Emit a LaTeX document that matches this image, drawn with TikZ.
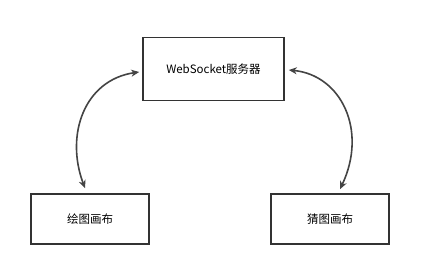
\documentclass[tikz,border=0pt]{standalone}
\usepackage{fontspec}
\setmainfont{Noto Sans CJK SC}
\usetikzlibrary{arrows.meta}
\definecolor{boxgray}{HTML}{333333}
\definecolor{arrowgray}{HTML}{444444}
\begin{document}
\begin{tikzpicture}[x=1pt,y=-1pt]
      \useasboundingbox[fill=white] (0,0) rectangle (427,272);

      \tikzstyle{box} = [
        rectangle,
        draw=boxgray,
        line width=1.6pt,
        font=\fontsize{11.5}{13}\selectfont,
        inner sep=0pt,
      ]

      \tikzstyle{arrow} = [line width=1.6pt,<->,>={Stealth[length=8pt,width=7pt,inset=2.5pt]}, draw=arrowgray]

      % server
      \node[box,minimum width=141pt,minimum height=63pt] (server) at (213.5,69) {WebSocket服务器};

      % canvases
      \node[box,minimum width=118pt,minimum height=50pt] (drawCanvas) at (90,219) {绘图画布};
      \node[box,minimum width=118pt,minimum height=50pt] (guessCanvas) at (330,219) {猜图画布};

      \coordinate (drawTip) at ([xshift=-5pt,yshift=5pt] drawCanvas.north);
      \coordinate (guessTip) at ([xshift=10pt,yshift=4pt] guessCanvas.north);

      % links
      \draw[arrow] ([xshift=-3pt,yshift=-3pt] server.west) .. controls +(-55,8) and (65,135) .. (drawTip);
      \draw[arrow] ([xshift=4pt,yshift=-1pt] server.east) .. controls +(52,5) and (368,130) .. (guessTip);
    \end{tikzpicture}
\end{document}
